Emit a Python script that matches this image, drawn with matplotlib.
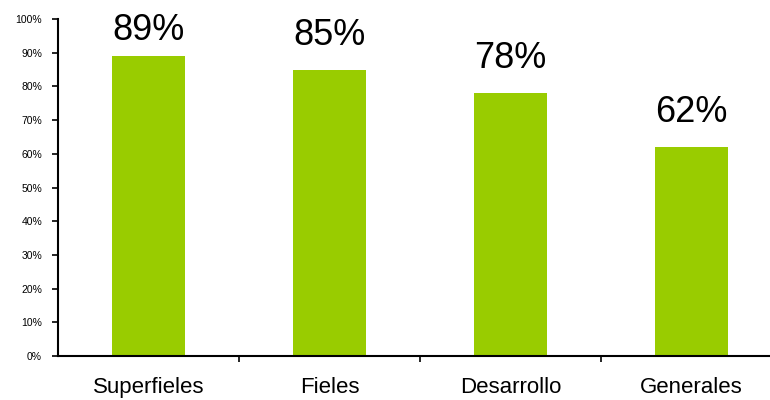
import matplotlib.pyplot as plt
import numpy as np

categorias = ['Superfieles', 'Fieles', 'Desarrollo', 'Generales']
porcentajes = [89, 85, 78, 62]
y_ticks = list(range(0, 101, 10))
y_tick_labels = [f'{v}%' for v in y_ticks]

plt.rcParams['font.family'] = ['Liberation Sans', 'DejaVu Sans']

fig = plt.figure(figsize=(7.7, 4.0), dpi=100)
# axes run past the right edge of the figure
ax = fig.add_axes([58 / 770, 44 / 400, 724 / 770, 337 / 400])

x = np.arange(len(categorias))
ax.bar(x, porcentajes, width=0.4, color='#99CC00', zorder=2)

# value labels above bars, kept inside the top of the plot
for xi, v in zip(x, porcentajes):
    ax.text(xi, min(v + 5, 91.3), f'{v}%', ha='center', va='bottom',
            fontsize=26, clip_on=False)

ax.set_xlim(-0.5, len(categorias) - 0.5)
ax.set_ylim(0, 100)
ax.set_yticks(y_ticks)
ax.set_yticklabels(y_tick_labels, fontsize=7.5)
ax.tick_params(axis='y', length=4.5, width=1.2, pad=7)

# category names centred under bars, tick marks between categories
ax.set_xticks(np.arange(0.5, len(categorias) - 0.5, 1.0))
ax.set_xticklabels([])
ax.tick_params(axis='x', length=4, width=1.2, direction='out')
for xi, name in zip(x, categorias):
    ax.text(xi, -9.3, name, ha='center', va='center', fontsize=16,
            clip_on=False)

for side in ['top', 'right']:
    ax.spines[side].set_visible(False)
for side in ['left', 'bottom']:
    ax.spines[side].set_linewidth(1.5)

plt.savefig('out.png', dpi=100)
